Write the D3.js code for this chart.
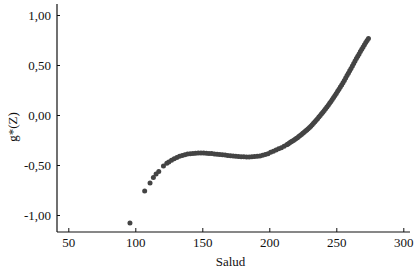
<!DOCTYPE html>
<html>
<head>
<meta charset="utf-8">
<script src="https://cdn.jsdelivr.net/npm/d3@7"></script>
<style>
  body { margin: 0; background: #fff; }
  text { font-family: "Liberation Serif", "Times New Roman", serif; fill: #111; }
</style>
</head>
<body>
<div id="chart"></div>
<script>
// chart size, matches the window
const svgWidth = 420;
const svgHeight = 272;

// ticks
const xTicks = [50, 100, 150, 200, 250, 300];
const yTicks = [-1, -0.5, 0, 0.5, 1];

// Salud values (x) and g*(Z) values (y)
const salud = [96, 107, 111, 113.5, 115.5, 117.5, 121, 123.5,
  125, 127, 129, 131, 133, 135, 137, 139, 141, 143, 145, 147, 149, 151, 153, 155, 157, 159,
  161, 163, 165, 167, 169, 171, 173, 175, 177, 179, 181, 183, 185, 187, 189, 191, 193, 195,
  197, 199, 201, 203, 205, 207, 209, 211, 213, 214, 215, 216, 217, 218, 219, 220, 221, 222,
  223, 224, 225, 226, 227, 228, 229, 230, 231, 232, 233, 234, 235, 236, 237, 238, 239, 240,
  241, 242, 243, 244, 245, 246, 247, 248, 249, 250, 251, 252, 253, 254, 255, 256, 257, 258,
  259, 260, 261, 262, 263, 264, 265, 266, 267, 268, 269, 270, 271, 272, 273, 274];
const gz = [-1.08, -0.76, -0.68, -0.625, -0.59, -0.565, -0.51, -0.483,
  -0.47, -0.452, -0.437, -0.424, -0.413, -0.404, -0.397, -0.391, -0.387, -0.384, -0.382, -0.381,
  -0.381, -0.381, -0.382, -0.384, -0.386, -0.389, -0.392, -0.395, -0.398, -0.401, -0.404, -0.407,
  -0.41, -0.413, -0.415, -0.417, -0.418, -0.419, -0.419, -0.418, -0.416, -0.413, -0.409, -0.403,
  -0.396, -0.387, -0.373, -0.362, -0.35, -0.337, -0.328, -0.313, -0.297, -0.289, -0.28, -0.271,
  -0.262, -0.254, -0.245, -0.236, -0.227, -0.216, -0.205, -0.194, -0.183, -0.172, -0.16, -0.149,
  -0.137, -0.125, -0.112, -0.097, -0.082, -0.067, -0.052, -0.037, -0.021, -0.005, 0.012, 0.028,
  0.045, 0.062, 0.08, 0.098, 0.117, 0.136, 0.156, 0.176, 0.196, 0.216, 0.237, 0.258,
  0.279, 0.301, 0.323, 0.346, 0.37, 0.394, 0.418, 0.442, 0.466, 0.49, 0.515, 0.54,
  0.564, 0.588, 0.611, 0.634, 0.657, 0.68, 0.702, 0.724, 0.745, 0.765];

const points = salud.map((s, i) => [s, gz[i]]);

// plot frame (axis lines go a bit past the ticks, like the original)
const frame = { left: 57, right: 410, top: 4, bottom: 232 };

const svg = d3.select("#chart")
    .append("svg")
    .attr("width", svgWidth)
    .attr("height", svgHeight);

const x = d3.scaleLinear()
    .domain([50, 300])
    .range([68.3, 403.3]);

const y = d3.scaleLinear()
    .domain([0, 1])
    .range([115, 15]);

// spanish style numbers: comma decimal, plain hyphen
const fmt = d => d3.format(".2f")(d).replace(".", ",").replace("\u2212", "-");

// x axis
const xAxis = svg.append("g")
    .attr("transform", `translate(0, ${frame.bottom})`)
    .call(d3.axisBottom(x).tickValues(xTicks).tickSizeInner(-4).tickSizeOuter(0));
xAxis.select(".domain").remove();
xAxis.selectAll("text").attr("font-size", "13px").attr("dy", "0.71em").attr("y", 6);
xAxis.selectAll("line").attr("stroke", "#111");

// y axis
const yAxis = svg.append("g")
    .attr("transform", `translate(${frame.left}, 0)`)
    .call(d3.axisLeft(y).tickValues(yTicks).tickFormat(fmt).tickSizeInner(-3).tickSizeOuter(0));
yAxis.select(".domain").remove();
yAxis.selectAll("text").attr("font-size", "13px").attr("x", -6);
yAxis.selectAll("line").attr("stroke", "#111");

// axis lines
svg.append("line")
    .attr("x1", frame.left).attr("x2", frame.right)
    .attr("y1", frame.bottom).attr("y2", frame.bottom)
    .attr("stroke", "#111").attr("stroke-width", 1.2);
svg.append("line")
    .attr("x1", frame.left).attr("x2", frame.left)
    .attr("y1", frame.top).attr("y2", frame.bottom)
    .attr("stroke", "#111").attr("stroke-width", 1.2);

// dots
svg.append("g")
    .selectAll("circle")
    .data(points)
    .enter()
    .append("circle")
    .attr("cx", d => x(d[0]))
    .attr("cy", d => y(d[1]))
    .attr("r", 2.5)
    .attr("fill", "#444");

// axis titles
svg.append("text")
    .text("Salud")
    .attr("x", (frame.left + frame.right) / 2 - 3)
    .attr("y", 266)
    .attr("text-anchor", "middle")
    .attr("font-size", "13px");

svg.append("text")
    .text("g*(Z)")
    .attr("transform", `translate(17, 127) rotate(-90)`)
    .attr("text-anchor", "middle")
    .attr("font-size", "13px");
</script>
</body>
</html>
